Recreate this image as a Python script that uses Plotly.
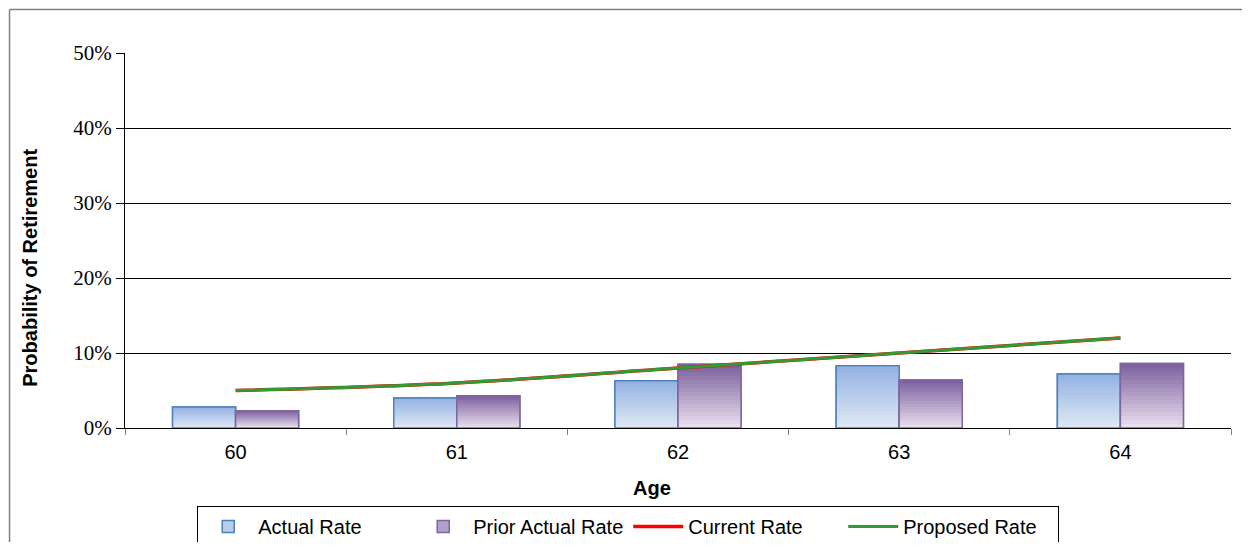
import plotly.graph_objects as go

ages = ["60", "61", "62", "63", "64"]
actual_rate = [0.028, 0.040, 0.063, 0.083, 0.072]
prior_actual_rate = [0.023, 0.043, 0.085, 0.064, 0.086]
current_rate = [0.05, 0.06, 0.08, 0.10, 0.12]
proposed_rate = [0.05, 0.06, 0.08, 0.10, 0.12]
y_ticks = [0, 0.1, 0.2, 0.3, 0.4, 0.5]
y_tick_labels = ["0%", "10%", "20%", "30%", "40%", "50%"]

N_STEPS = 16


def mix(c1, c2, t):
    a = [int(c1[i:i + 2], 16) for i in (1, 3, 5)]
    b = [int(c2[i:i + 2], 16) for i in (1, 3, 5)]
    return "rgb(%d,%d,%d)" % tuple(round(a[k] + (b[k] - a[k]) * t) for k in range(3))


def add_gradient_bars(fig, values, name, top, bottom, edge, group):
    # legend entry / base bar
    fig.add_trace(go.Bar(
        x=ages, y=values, name=name, offsetgroup=group, showlegend=True,
        marker=dict(color=mix(top, bottom, 0.5), line=dict(color=edge, width=1.5)),
    ))
    for k in range(N_STEPS):
        frac = 1 - k / N_STEPS
        fig.add_trace(go.Bar(
            x=ages, y=[v * frac for v in values], name=name,
            offsetgroup=group, showlegend=False, hoverinfo="skip",
            marker=dict(color=mix(top, bottom, k / (N_STEPS - 1)), line=dict(width=0)),
        ))
    fig.add_trace(go.Bar(
        x=ages, y=values, name=name, offsetgroup=group, showlegend=False,
        hoverinfo="skip",
        marker=dict(color="rgba(0,0,0,0)", line=dict(color=edge, width=1.5)),
    ))


fig = go.Figure()
add_gradient_bars(fig, actual_rate, "Actual Rate", "#95B3E2", "#DDE7F5", "#4F81BD", "a")
add_gradient_bars(fig, prior_actual_rate, "Prior Actual Rate", "#7E62A0", "#E8DEED", "#8064A2", "p")

fig.add_trace(go.Scatter(
    x=ages, y=current_rate, name="Current Rate", mode="lines",
    line=dict(color="#FF0000", width=3.5, shape="spline"),
))
fig.add_trace(go.Scatter(
    x=ages, y=proposed_rate, name="Proposed Rate", mode="lines",
    line=dict(color="#339933", width=3, shape="spline"),
))

# page body has an 8px margin, so the figure is offset by 8px
fig.update_layout(
    width=1242, height=534,
    paper_bgcolor="white", plot_bgcolor="white",
    margin=dict(l=117, r=19, t=45, b=114, autoexpand=False),
    barmode="group", bargap=0.43, bargroupgap=0,
    font=dict(family="Arial", color="black"),
    showlegend=True,
    legend=dict(
        orientation="h", x=0.455, xanchor="center", y=-0.208, yanchor="top",
        font=dict(family="Arial", size=20, color="black"),
        bordercolor="black", borderwidth=1, bgcolor="white",
        itemwidth=50, tracegroupgap=0,
        entrywidth=150, entrywidthmode="pixels",
    ),
    xaxis=dict(
        type="category", tickson="boundaries", ticks="outside", ticklen=6,
        tickcolor="#808080", showline=True, linecolor="black", linewidth=1,
        tickfont=dict(family="Arial", size=20, color="black"),
        ticklabelstandoff=6,
        showgrid=False, automargin=False,
    ),
    yaxis=dict(
        range=[0, 0.5], tickvals=y_ticks, ticktext=y_tick_labels,
        ticks="outside", ticklen=8, tickcolor="black",
        showline=True, linecolor="black", linewidth=1,
        showgrid=True, gridcolor="black", gridwidth=1,
        tickfont=dict(family="Times New Roman, Liberation Serif", size=21, color="black"),
        zeroline=False, automargin=False,
    ),
    annotations=[
        dict(text="<b>Age</b>", xref="paper", yref="paper", x=0.4765, y=-0.16,
             showarrow=False, xanchor="center", yanchor="middle",
             font=dict(family="Arial", size=20, color="black")),
        dict(text="<b>Probability of Retirement</b>", xref="paper", yref="paper",
             x=-0.086, y=0.427, textangle=-90, showarrow=False,
             xanchor="center", yanchor="middle",
             font=dict(family="Arial", size=20, color="black")),
    ],
    shapes=[
        dict(type="line", xref="paper", yref="paper",
             x0=-0.1044, x1=1.03, y0=1.116, y1=1.116,
             line=dict(color="#808080", width=1.5)),
        dict(type="line", xref="paper", yref="paper",
             x0=-0.1044, x1=-0.1044, y0=1.116, y1=-0.35,
             line=dict(color="#808080", width=1.5)),
    ],
)

fig.write_html("out.html")
